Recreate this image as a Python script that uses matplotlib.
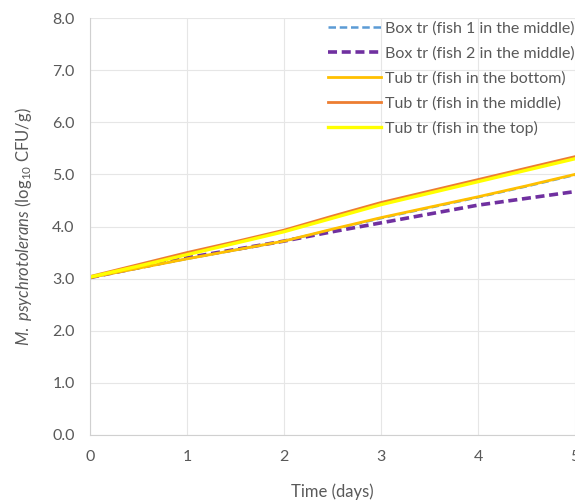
import matplotlib.pyplot as plt

plt.rcParams['font.family'] = ['Lato', 'DejaVu Sans']
plt.rcParams['mathtext.fontset'] = 'custom'
plt.rcParams['mathtext.rm'] = 'Lato'
plt.rcParams['mathtext.it'] = 'Lato:italic'

# time in days
days = [0, 0.5, 1, 1.5, 2, 2.5, 3, 3.5, 4, 4.5, 5]

box_fish1 = [3.02, 3.20, 3.38, 3.55, 3.72, 3.94, 4.16, 4.36, 4.56, 4.77, 4.99]
box_fish2 = [3.02, 3.21, 3.40, 3.56, 3.72, 3.90, 4.07, 4.24, 4.41, 4.54, 4.67]
tub_bottom = [3.02, 3.20, 3.38, 3.55, 3.72, 3.95, 4.17, 4.37, 4.57, 4.78, 5.00]
tub_middle = [3.04, 3.27, 3.50, 3.71, 3.93, 4.20, 4.46, 4.68, 4.90, 5.12, 5.34]
tub_top = [3.03, 3.24, 3.46, 3.68, 3.90, 4.16, 4.42, 4.64, 4.86, 5.08, 5.30]

labels = ["Box tr (fish 1 in the middle)", "Box tr (fish 2 in the middle)",
          "Tub tr (fish in the bottom)", "Tub tr (fish in the middle)",
          "Tub tr (fish in the top)"]

grey = "#595959"
fig = plt.figure(figsize=(5.75, 5.03), dpi=100)
ax = fig.add_axes([0.1565, 0.1352, 0.8435, 0.829])

ax.plot(days, box_fish1, color="#5B9BD5", lw=1.8, ls=(0, (3, 1.5)), label=labels[0])
ax.plot(days, box_fish2, color="#7030A0", lw=2.6, ls=(0, (2.5, 1.3)), label=labels[1])
ax.plot(days, tub_bottom, color="#FFC000", lw=2.0, label=labels[2])
ax.plot(days, tub_middle, color="#ED7D31", lw=2.0, label=labels[3])
ax.plot(days, tub_top, color="#FFFF00", lw=2.4, label=labels[4])

ax.set_xlim(0, 5)
ax.set_ylim(0, 8)
ax.set_xticks(range(6))
ax.set_yticks(range(9))
ax.set_yticklabels([f"{v:.1f}" for v in range(9)])
ax.grid(True, color="#E6E6E6", lw=0.8)
ax.set_axisbelow(True)
for s in ["top", "right"]:
    ax.spines[s].set_visible(False)
for s in ["left", "bottom"]:
    ax.spines[s].set_color("#D0D0D0")
ax.tick_params(length=0, colors=grey, labelsize=11.5, pad=11)

ax.set_xlabel("Time (days)", color=grey, fontsize=12, labelpad=14)
ax.set_ylabel(r"$\mathit{M.\ psychrotolerans}$ (log$_{10}$ CFU/g)", color=grey,
              fontsize=12, labelpad=13)

ax.legend(loc="upper right", bbox_to_anchor=(1.02, 1.015), frameon=False,
          fontsize=11.5, handlelength=3.3, handletextpad=0.3, labelspacing=0.66,
          labelcolor=grey, borderaxespad=0.2)

fig.savefig("out.png")
